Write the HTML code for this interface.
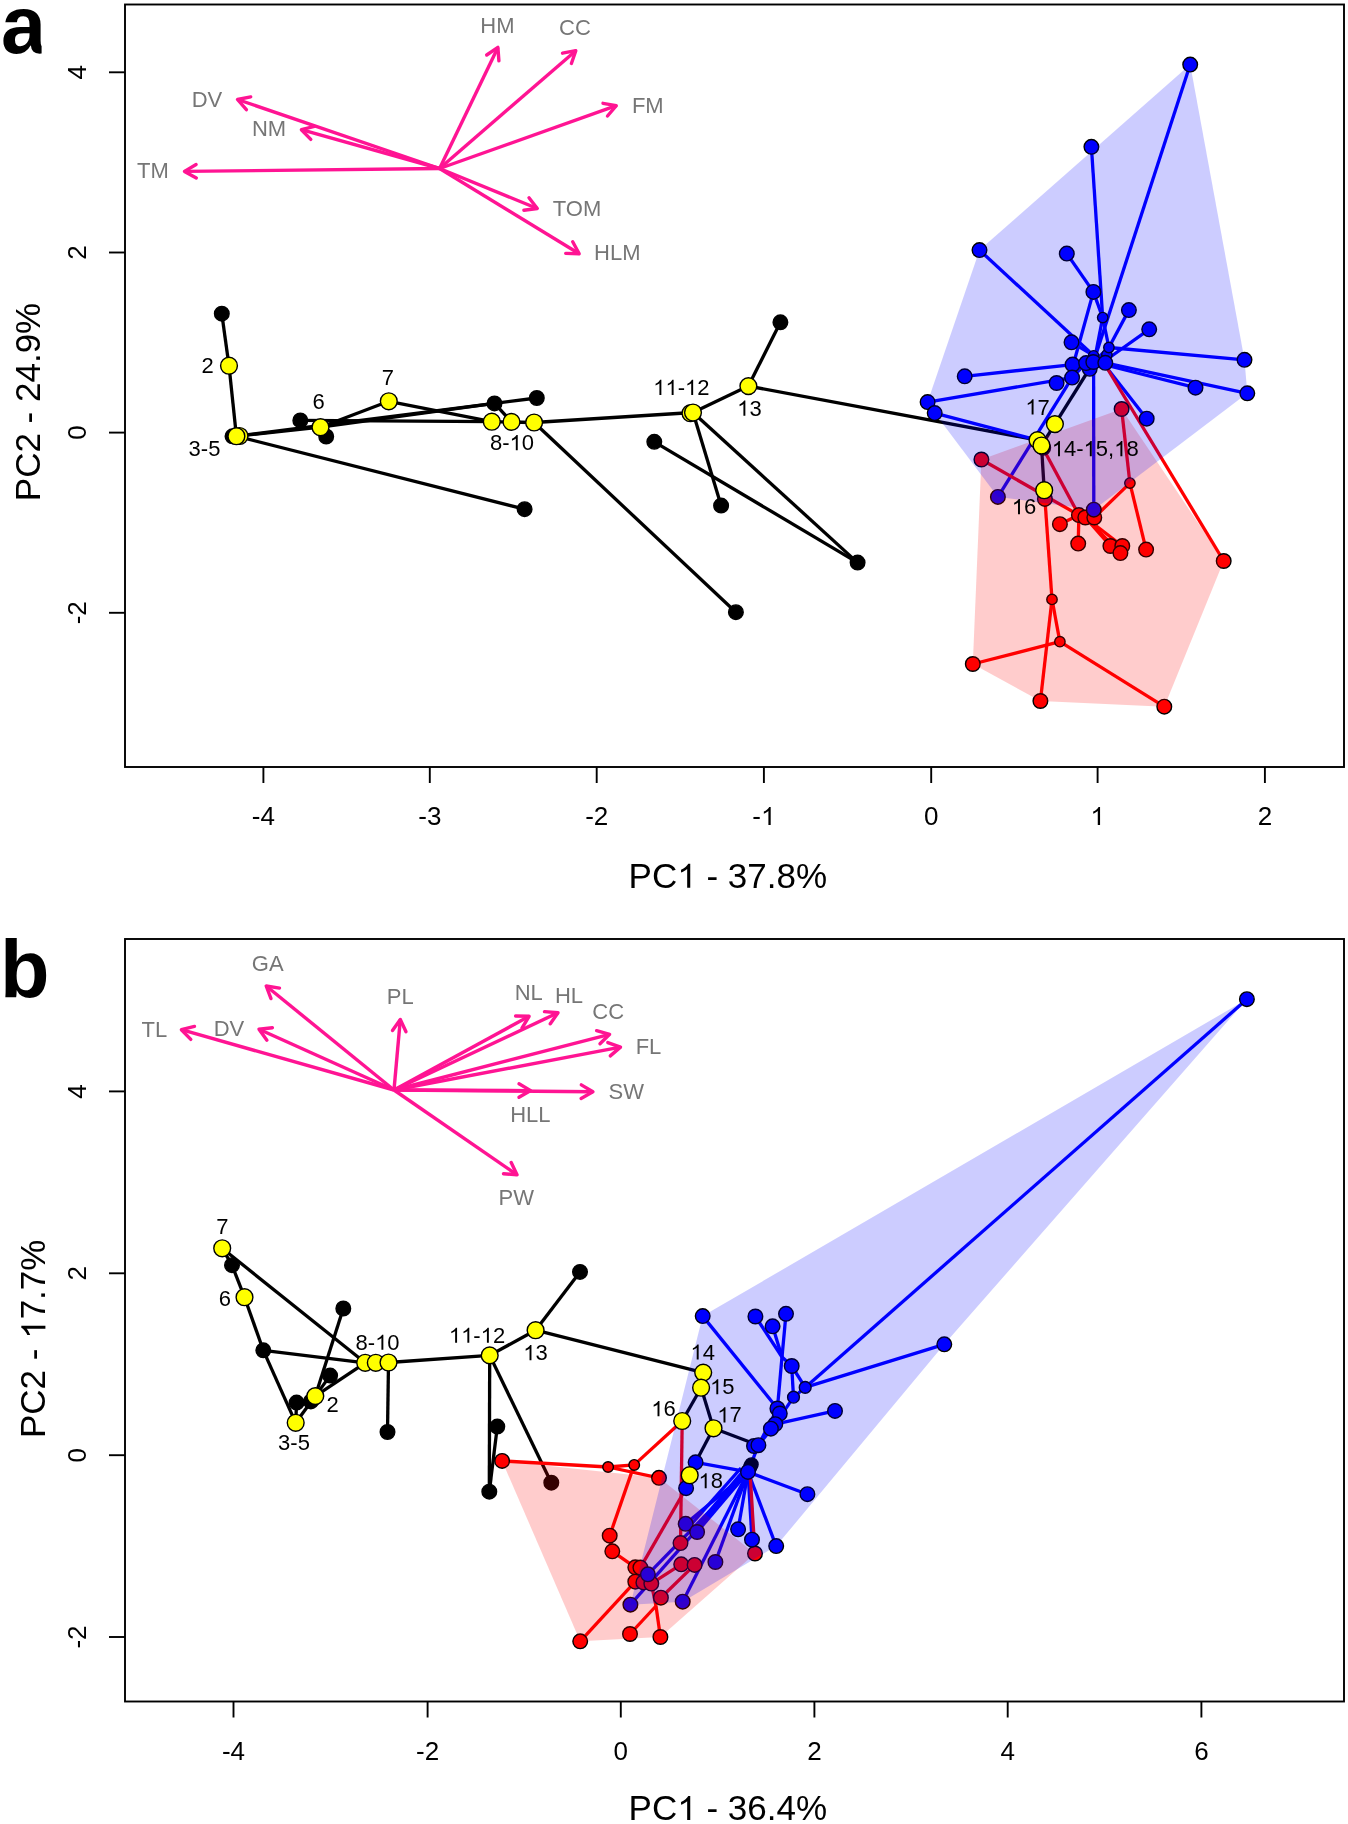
<!DOCTYPE html>
<html><head><meta charset="utf-8"><style>
html,body{margin:0;padding:0;background:#fff;}
svg{display:block;will-change:transform;}
text{font-family:"Liberation Sans", sans-serif;}
</style></head><body>
<svg width="1348" height="1824" viewBox="0 0 1348 1824">
<rect width="1348" height="1824" fill="#fff"/>
<rect x="125" y="4.5" width="1219" height="762.5" fill="none" stroke="#000" stroke-width="1.9"/>
<line x1="263.4" y1="767.0" x2="263.4" y2="783.0" stroke="#000" stroke-width="1.9"/>
<text x="263.4" y="825.0" font-size="26" fill="#000" text-anchor="middle" >-4</text>
<line x1="429.8" y1="767.0" x2="429.8" y2="783.0" stroke="#000" stroke-width="1.9"/>
<text x="429.8" y="825.0" font-size="26" fill="#000" text-anchor="middle" >-3</text>
<line x1="596.7" y1="767.0" x2="596.7" y2="783.0" stroke="#000" stroke-width="1.9"/>
<text x="596.7" y="825.0" font-size="26" fill="#000" text-anchor="middle" >-2</text>
<line x1="763.9" y1="767.0" x2="763.9" y2="783.0" stroke="#000" stroke-width="1.9"/>
<text x="763.9" y="825.0" font-size="26" fill="#000" text-anchor="middle" style="font-kerning:none" >- </text><path d="M763 0L583 0L583 1098Q518 1038 412 980Q307 921 224 890L224 1057Q374 1125 487 1221Q600 1318 647 1409L763 1409Z" fill="#000" transform="translate(761.00,825.00) scale(0.01270,-0.01270)"/>
<line x1="931.2" y1="767.0" x2="931.2" y2="783.0" stroke="#000" stroke-width="1.9"/>
<text x="931.2" y="825.0" font-size="26" fill="#000" text-anchor="middle" >0</text>
<line x1="1097.6" y1="767.0" x2="1097.6" y2="783.0" stroke="#000" stroke-width="1.9"/>
<text x="1097.6" y="825.0" font-size="26" fill="#000" text-anchor="middle" style="font-kerning:none" > </text><path d="M763 0L583 0L583 1098Q518 1038 412 980Q307 921 224 890L224 1057Q374 1125 487 1221Q600 1318 647 1409L763 1409Z" fill="#000" transform="translate(1090.37,825.00) scale(0.01270,-0.01270)"/>
<line x1="1264.9" y1="767.0" x2="1264.9" y2="783.0" stroke="#000" stroke-width="1.9"/>
<text x="1264.9" y="825.0" font-size="26" fill="#000" text-anchor="middle" >2</text>
<line x1="109.0" y1="72.3" x2="125.0" y2="72.3" stroke="#000" stroke-width="1.9"/>
<text x="0.0" y="0.0" font-size="26" fill="#000" text-anchor="middle" transform="translate(86,72.3) rotate(-90)">4</text>
<line x1="109.0" y1="252.5" x2="125.0" y2="252.5" stroke="#000" stroke-width="1.9"/>
<text x="0.0" y="0.0" font-size="26" fill="#000" text-anchor="middle" transform="translate(86,252.5) rotate(-90)">2</text>
<line x1="109.0" y1="432.6" x2="125.0" y2="432.6" stroke="#000" stroke-width="1.9"/>
<text x="0.0" y="0.0" font-size="26" fill="#000" text-anchor="middle" transform="translate(86,432.6) rotate(-90)">0</text>
<line x1="109.0" y1="612.8" x2="125.0" y2="612.8" stroke="#000" stroke-width="1.9"/>
<text x="0.0" y="0.0" font-size="26" fill="#000" text-anchor="middle" transform="translate(86,612.8) rotate(-90)">-2</text>
<text x="727.8" y="887.8" font-size="35" fill="#000" text-anchor="middle" style="font-kerning:none" >PC  - 37.8%</text><path d="M763 0L583 0L583 1098Q518 1038 412 980Q307 921 224 890L224 1057Q374 1125 487 1221Q600 1318 647 1409L763 1409Z" fill="#000" transform="translate(677.21,887.80) scale(0.01709,-0.01709)"/>
<text x="0.0" y="0.0" font-size="35" fill="#000" text-anchor="middle" transform="translate(40.1,402) rotate(-90)">PC2 - 24.9%</text>
<text x="1.0" y="52.5" font-size="81" fill="#000" text-anchor="start" font-weight="bold">a</text>
<rect x="41.6" y="43" width="10" height="14" fill="#fff"/>
<line x1="439.6" y1="168.5" x2="497.9" y2="47.4" stroke="#FF1493" stroke-width="3.4"/>
<polyline points="486.7,55.0 497.9,47.4 498.9,60.9" fill="none" stroke="#FF1493" stroke-width="3.4" stroke-linecap="round" stroke-linejoin="round"/>
<line x1="439.6" y1="168.5" x2="575.8" y2="50.7" stroke="#FF1493" stroke-width="3.4"/>
<polyline points="562.5,53.2 575.8,50.7 571.4,63.5" fill="none" stroke="#FF1493" stroke-width="3.4" stroke-linecap="round" stroke-linejoin="round"/>
<line x1="439.6" y1="168.5" x2="616.3" y2="105.7" stroke="#FF1493" stroke-width="3.4"/>
<polyline points="603.0,103.3 616.3,105.7 607.5,116.0" fill="none" stroke="#FF1493" stroke-width="3.4" stroke-linecap="round" stroke-linejoin="round"/>
<line x1="439.6" y1="168.5" x2="537.3" y2="208.5" stroke="#FF1493" stroke-width="3.4"/>
<polyline points="529.0,197.8 537.3,208.5 523.9,210.3" fill="none" stroke="#FF1493" stroke-width="3.4" stroke-linecap="round" stroke-linejoin="round"/>
<line x1="439.6" y1="168.5" x2="579.2" y2="253.7" stroke="#FF1493" stroke-width="3.4"/>
<polyline points="572.7,241.8 579.2,253.7 565.7,253.4" fill="none" stroke="#FF1493" stroke-width="3.4" stroke-linecap="round" stroke-linejoin="round"/>
<line x1="439.6" y1="168.5" x2="237.5" y2="99.5" stroke="#FF1493" stroke-width="3.4"/>
<polyline points="246.4,109.7 237.5,99.5 250.7,96.9" fill="none" stroke="#FF1493" stroke-width="3.4" stroke-linecap="round" stroke-linejoin="round"/>
<line x1="439.6" y1="168.5" x2="301.4" y2="129.7" stroke="#FF1493" stroke-width="3.4"/>
<polyline points="310.8,139.4 301.4,129.7 314.5,126.4" fill="none" stroke="#FF1493" stroke-width="3.4" stroke-linecap="round" stroke-linejoin="round"/>
<line x1="439.6" y1="168.5" x2="184.5" y2="171.4" stroke="#FF1493" stroke-width="3.4"/>
<polyline points="196.3,178.0 184.5,171.4 196.1,164.5" fill="none" stroke="#FF1493" stroke-width="3.4" stroke-linecap="round" stroke-linejoin="round"/>
<text x="207.0" y="106.8" font-size="22" fill="#767676" text-anchor="middle" >DV</text>
<text x="269.0" y="136.2" font-size="22" fill="#767676" text-anchor="middle" >NM</text>
<text x="153.0" y="178.0" font-size="22" fill="#767676" text-anchor="middle" >TM</text>
<text x="497.4" y="32.9" font-size="22" fill="#767676" text-anchor="middle" >HM</text>
<text x="575.0" y="35.2" font-size="22" fill="#767676" text-anchor="middle" >CC</text>
<text x="647.8" y="113.0" font-size="22" fill="#767676" text-anchor="middle" >FM</text>
<text x="577.0" y="215.5" font-size="22" fill="#767676" text-anchor="middle" >TOM</text>
<text x="617.3" y="260.4" font-size="22" fill="#767676" text-anchor="middle" >HLM</text>
<line x1="221.8" y1="313.7" x2="229.0" y2="365.7" stroke="#000" stroke-width="3.3"/>
<line x1="229.0" y1="365.7" x2="236.4" y2="436.2" stroke="#000" stroke-width="3.3"/>
<line x1="236.4" y1="436.2" x2="320.5" y2="427.2" stroke="#000" stroke-width="3.3"/>
<line x1="236.4" y1="436.2" x2="494.5" y2="403.4" stroke="#000" stroke-width="3.3"/>
<line x1="320.5" y1="427.2" x2="494.5" y2="403.4" stroke="#000" stroke-width="3.3"/>
<line x1="236.4" y1="436.2" x2="524.6" y2="509.2" stroke="#000" stroke-width="3.3"/>
<line x1="320.5" y1="427.2" x2="326.2" y2="436.5" stroke="#000" stroke-width="3.3"/>
<line x1="320.5" y1="427.2" x2="388.8" y2="401.3" stroke="#000" stroke-width="3.3"/>
<line x1="388.8" y1="401.3" x2="491.8" y2="421.7" stroke="#000" stroke-width="3.3"/>
<line x1="300.3" y1="420.4" x2="491.8" y2="421.7" stroke="#000" stroke-width="3.3"/>
<line x1="494.5" y1="403.4" x2="536.8" y2="398.0" stroke="#000" stroke-width="3.3"/>
<line x1="494.5" y1="403.4" x2="511.5" y2="421.9" stroke="#000" stroke-width="3.3"/>
<line x1="491.8" y1="421.7" x2="534.1" y2="422.5" stroke="#000" stroke-width="3.3"/>
<line x1="534.1" y1="422.5" x2="693.0" y2="412.5" stroke="#000" stroke-width="3.3"/>
<line x1="534.1" y1="422.5" x2="735.9" y2="612.2" stroke="#000" stroke-width="3.3"/>
<line x1="693.0" y1="412.5" x2="748.4" y2="386.1" stroke="#000" stroke-width="3.3"/>
<line x1="748.4" y1="386.1" x2="780.4" y2="322.3" stroke="#000" stroke-width="3.3"/>
<line x1="748.4" y1="386.1" x2="1037.5" y2="440.1" stroke="#000" stroke-width="3.3"/>
<line x1="693.0" y1="412.5" x2="721.1" y2="505.6" stroke="#000" stroke-width="3.3"/>
<line x1="693.0" y1="412.5" x2="857.6" y2="562.6" stroke="#000" stroke-width="3.3"/>
<line x1="654.3" y1="441.8" x2="857.6" y2="562.6" stroke="#000" stroke-width="3.3"/>
<line x1="1041.5" y1="445.5" x2="1044.2" y2="490.2" stroke="#000" stroke-width="3.3"/>
<line x1="1090.0" y1="368.0" x2="1054.9" y2="424.1" stroke="#000" stroke-width="3.3"/>
<line x1="1054.9" y1="424.1" x2="1041.5" y2="445.5" stroke="#000" stroke-width="3.3"/>
<line x1="1190.2" y1="64.6" x2="1093.5" y2="362.0" stroke="#0000FF" stroke-width="3.3"/>
<line x1="1091.4" y1="146.8" x2="1102.7" y2="317.6" stroke="#0000FF" stroke-width="3.3"/>
<line x1="1102.7" y1="317.6" x2="1108.9" y2="347.5" stroke="#0000FF" stroke-width="3.3"/>
<line x1="1102.7" y1="317.6" x2="1096.0" y2="352.0" stroke="#0000FF" stroke-width="3.3"/>
<line x1="1066.8" y1="253.6" x2="1093.4" y2="291.9" stroke="#0000FF" stroke-width="3.3"/>
<line x1="1093.4" y1="291.9" x2="1102.7" y2="317.6" stroke="#0000FF" stroke-width="3.3"/>
<line x1="1093.4" y1="291.9" x2="1074.0" y2="362.0" stroke="#0000FF" stroke-width="3.3"/>
<line x1="1128.9" y1="310.1" x2="1108.9" y2="347.5" stroke="#0000FF" stroke-width="3.3"/>
<line x1="1149.2" y1="329.3" x2="1106.0" y2="360.0" stroke="#0000FF" stroke-width="3.3"/>
<line x1="1071.5" y1="342.3" x2="1093.0" y2="355.0" stroke="#0000FF" stroke-width="3.3"/>
<line x1="979.5" y1="250.1" x2="1093.0" y2="355.0" stroke="#0000FF" stroke-width="3.3"/>
<line x1="1108.9" y1="347.5" x2="1244.5" y2="359.8" stroke="#0000FF" stroke-width="3.3"/>
<line x1="1105.3" y1="362.8" x2="1247.3" y2="393.3" stroke="#0000FF" stroke-width="3.3"/>
<line x1="1093.5" y1="362.0" x2="1195.5" y2="387.7" stroke="#0000FF" stroke-width="3.3"/>
<line x1="1072.6" y1="364.6" x2="964.7" y2="376.3" stroke="#0000FF" stroke-width="3.3"/>
<line x1="1072.1" y1="377.6" x2="927.6" y2="402.1" stroke="#0000FF" stroke-width="3.3"/>
<line x1="1086.0" y1="363.0" x2="1072.1" y2="377.6" stroke="#0000FF" stroke-width="3.3"/>
<line x1="934.7" y1="413.1" x2="1037.5" y2="440.1" stroke="#0000FF" stroke-width="3.3"/>
<line x1="1072.1" y1="377.6" x2="997.9" y2="496.9" stroke="#0000FF" stroke-width="3.3"/>
<line x1="1093.6" y1="362.0" x2="1093.8" y2="509.7" stroke="#0000FF" stroke-width="3.3"/>
<line x1="1107.0" y1="368.0" x2="1146.7" y2="418.7" stroke="#0000FF" stroke-width="3.3"/>
<line x1="1093.5" y1="362.0" x2="1072.6" y2="364.6" stroke="#0000FF" stroke-width="3.3"/>
<line x1="1093.5" y1="362.0" x2="1105.3" y2="362.8" stroke="#0000FF" stroke-width="3.3"/>
<line x1="1093.5" y1="362.0" x2="1108.9" y2="347.5" stroke="#0000FF" stroke-width="3.3"/>
<line x1="1107.0" y1="368.0" x2="1223.7" y2="561.0" stroke="#FF0000" stroke-width="3.3"/>
<line x1="1121.6" y1="409.0" x2="1129.9" y2="483.1" stroke="#FF0000" stroke-width="3.3"/>
<line x1="1129.9" y1="483.1" x2="1146.1" y2="549.6" stroke="#FF0000" stroke-width="3.3"/>
<line x1="1129.9" y1="483.1" x2="1094.3" y2="517.5" stroke="#FF0000" stroke-width="3.3"/>
<line x1="981.4" y1="459.5" x2="1078.9" y2="515.1" stroke="#FF0000" stroke-width="3.3"/>
<line x1="1041.5" y1="445.5" x2="1078.9" y2="515.1" stroke="#FF0000" stroke-width="3.3"/>
<line x1="1059.9" y1="524.2" x2="1078.9" y2="515.1" stroke="#FF0000" stroke-width="3.3"/>
<line x1="1078.9" y1="515.1" x2="1078.2" y2="543.6" stroke="#FF0000" stroke-width="3.3"/>
<line x1="1085.3" y1="517.5" x2="1110.4" y2="546.0" stroke="#FF0000" stroke-width="3.3"/>
<line x1="1085.3" y1="517.5" x2="1122.3" y2="546.0" stroke="#FF0000" stroke-width="3.3"/>
<line x1="1085.3" y1="517.5" x2="1120.4" y2="553.1" stroke="#FF0000" stroke-width="3.3"/>
<line x1="1078.9" y1="515.1" x2="1094.3" y2="517.5" stroke="#FF0000" stroke-width="3.3"/>
<line x1="1044.9" y1="498.9" x2="1052.0" y2="599.4" stroke="#FF0000" stroke-width="3.3"/>
<line x1="1052.0" y1="599.4" x2="1040.4" y2="701.0" stroke="#FF0000" stroke-width="3.3"/>
<line x1="1052.0" y1="599.4" x2="1059.9" y2="641.7" stroke="#FF0000" stroke-width="3.3"/>
<line x1="1059.9" y1="641.7" x2="972.8" y2="664.0" stroke="#FF0000" stroke-width="3.3"/>
<line x1="1059.9" y1="641.7" x2="1164.3" y2="706.7" stroke="#FF0000" stroke-width="3.3"/>
<circle cx="221.8" cy="313.7" r="7.30" fill="#000" stroke="#000" stroke-width="1.4"/>
<circle cx="300.3" cy="420.4" r="7.30" fill="#000" stroke="#000" stroke-width="1.4"/>
<circle cx="326.2" cy="436.5" r="7.30" fill="#000" stroke="#000" stroke-width="1.4"/>
<circle cx="494.5" cy="403.4" r="7.30" fill="#000" stroke="#000" stroke-width="1.4"/>
<circle cx="536.8" cy="398.0" r="7.30" fill="#000" stroke="#000" stroke-width="1.4"/>
<circle cx="524.6" cy="509.2" r="7.30" fill="#000" stroke="#000" stroke-width="1.4"/>
<circle cx="654.3" cy="441.8" r="7.30" fill="#000" stroke="#000" stroke-width="1.4"/>
<circle cx="721.1" cy="505.6" r="7.30" fill="#000" stroke="#000" stroke-width="1.4"/>
<circle cx="857.6" cy="562.6" r="7.30" fill="#000" stroke="#000" stroke-width="1.4"/>
<circle cx="735.9" cy="612.2" r="7.30" fill="#000" stroke="#000" stroke-width="1.4"/>
<circle cx="780.4" cy="322.3" r="7.30" fill="#000" stroke="#000" stroke-width="1.4"/>
<circle cx="232.5" cy="436.3" r="7.30" fill="#000" stroke="#000" stroke-width="1.4"/>
<circle cx="1043.2" cy="447.8" r="7.30" fill="#000" stroke="#000" stroke-width="1.4"/>
<circle cx="1121.6" cy="409.0" r="7.30" fill="#FF0000" stroke="#000" stroke-width="1.4"/>
<circle cx="981.4" cy="459.5" r="7.30" fill="#FF0000" stroke="#000" stroke-width="1.4"/>
<circle cx="1044.9" cy="498.9" r="7.30" fill="#FF0000" stroke="#000" stroke-width="1.4"/>
<circle cx="1078.9" cy="515.1" r="7.30" fill="#FF0000" stroke="#000" stroke-width="1.4"/>
<circle cx="1085.3" cy="517.5" r="7.30" fill="#FF0000" stroke="#000" stroke-width="1.4"/>
<circle cx="1094.3" cy="517.5" r="7.30" fill="#FF0000" stroke="#000" stroke-width="1.4"/>
<circle cx="1059.9" cy="524.2" r="7.30" fill="#FF0000" stroke="#000" stroke-width="1.4"/>
<circle cx="1078.2" cy="543.6" r="7.30" fill="#FF0000" stroke="#000" stroke-width="1.4"/>
<circle cx="1110.4" cy="546.0" r="7.30" fill="#FF0000" stroke="#000" stroke-width="1.4"/>
<circle cx="1122.3" cy="546.0" r="7.30" fill="#FF0000" stroke="#000" stroke-width="1.4"/>
<circle cx="1120.4" cy="553.1" r="7.30" fill="#FF0000" stroke="#000" stroke-width="1.4"/>
<circle cx="1146.1" cy="549.6" r="7.30" fill="#FF0000" stroke="#000" stroke-width="1.4"/>
<circle cx="1223.7" cy="561.0" r="7.30" fill="#FF0000" stroke="#000" stroke-width="1.4"/>
<circle cx="972.8" cy="664.0" r="7.30" fill="#FF0000" stroke="#000" stroke-width="1.4"/>
<circle cx="1040.4" cy="701.0" r="7.30" fill="#FF0000" stroke="#000" stroke-width="1.4"/>
<circle cx="1164.3" cy="706.7" r="7.30" fill="#FF0000" stroke="#000" stroke-width="1.4"/>
<circle cx="1129.9" cy="483.1" r="5.20" fill="#FF0000" stroke="#000" stroke-width="1.4"/>
<circle cx="1052.0" cy="599.4" r="5.20" fill="#FF0000" stroke="#000" stroke-width="1.4"/>
<circle cx="1059.9" cy="641.7" r="5.20" fill="#FF0000" stroke="#000" stroke-width="1.4"/>
<circle cx="1093.6" cy="355.8" r="5.20" fill="#0000FF" stroke="#000" stroke-width="1.4"/>
<circle cx="1106.9" cy="354.8" r="5.20" fill="#0000FF" stroke="#000" stroke-width="1.4"/>
<circle cx="1190.2" cy="64.6" r="7.30" fill="#0000FF" stroke="#000" stroke-width="1.4"/>
<circle cx="1091.4" cy="146.8" r="7.30" fill="#0000FF" stroke="#000" stroke-width="1.4"/>
<circle cx="979.5" cy="250.1" r="7.30" fill="#0000FF" stroke="#000" stroke-width="1.4"/>
<circle cx="1066.8" cy="253.6" r="7.30" fill="#0000FF" stroke="#000" stroke-width="1.4"/>
<circle cx="1093.4" cy="291.9" r="7.30" fill="#0000FF" stroke="#000" stroke-width="1.4"/>
<circle cx="1128.9" cy="310.1" r="7.30" fill="#0000FF" stroke="#000" stroke-width="1.4"/>
<circle cx="1149.2" cy="329.3" r="7.30" fill="#0000FF" stroke="#000" stroke-width="1.4"/>
<circle cx="1071.5" cy="342.3" r="7.30" fill="#0000FF" stroke="#000" stroke-width="1.4"/>
<circle cx="1244.5" cy="359.8" r="7.30" fill="#0000FF" stroke="#000" stroke-width="1.4"/>
<circle cx="964.7" cy="376.3" r="7.30" fill="#0000FF" stroke="#000" stroke-width="1.4"/>
<circle cx="1072.6" cy="364.6" r="7.30" fill="#0000FF" stroke="#000" stroke-width="1.4"/>
<circle cx="1072.1" cy="377.6" r="7.30" fill="#0000FF" stroke="#000" stroke-width="1.4"/>
<circle cx="1056.6" cy="383.0" r="7.30" fill="#0000FF" stroke="#000" stroke-width="1.4"/>
<circle cx="1195.5" cy="387.7" r="7.30" fill="#0000FF" stroke="#000" stroke-width="1.4"/>
<circle cx="1247.3" cy="393.3" r="7.30" fill="#0000FF" stroke="#000" stroke-width="1.4"/>
<circle cx="927.6" cy="402.1" r="7.30" fill="#0000FF" stroke="#000" stroke-width="1.4"/>
<circle cx="934.7" cy="413.1" r="7.30" fill="#0000FF" stroke="#000" stroke-width="1.4"/>
<circle cx="1146.7" cy="418.7" r="7.30" fill="#0000FF" stroke="#000" stroke-width="1.4"/>
<circle cx="997.9" cy="496.9" r="7.30" fill="#0000FF" stroke="#000" stroke-width="1.4"/>
<circle cx="1093.8" cy="509.7" r="7.30" fill="#0000FF" stroke="#000" stroke-width="1.4"/>
<circle cx="1089.7" cy="368.8" r="7.30" fill="#0000FF" stroke="#000" stroke-width="1.4"/>
<circle cx="1086.1" cy="363.1" r="7.30" fill="#0000FF" stroke="#000" stroke-width="1.4"/>
<circle cx="1093.3" cy="362.0" r="7.30" fill="#0000FF" stroke="#000" stroke-width="1.4"/>
<circle cx="1105.3" cy="362.8" r="7.30" fill="#0000FF" stroke="#000" stroke-width="1.4"/>
<circle cx="1102.7" cy="317.6" r="5.20" fill="#0000FF" stroke="#000" stroke-width="1.4"/>
<circle cx="1108.9" cy="347.5" r="5.20" fill="#0000FF" stroke="#000" stroke-width="1.4"/>
<polygon points="981.4,459.5 1121.6,409.0 1223.7,561.0 1164.3,706.7 1040.4,701.0 972.8,664.0" fill="#FF0000" fill-opacity="0.2" stroke="none"/>
<polygon points="1190.2,64.6 1244.5,359.8 1247.3,393.3 1093.8,509.7 997.9,496.9 934.7,413.1 927.6,402.1 979.5,250.1" fill="#0000FF" fill-opacity="0.2" stroke="none"/>
<circle cx="229.0" cy="365.7" r="8.40" fill="#FFFF00" stroke="#000" stroke-width="1.4"/>
<circle cx="239.5" cy="436.0" r="8.40" fill="#FFFF00" stroke="#000" stroke-width="1.4"/>
<circle cx="236.4" cy="436.2" r="8.40" fill="#FFFF00" stroke="#000" stroke-width="1.4"/>
<circle cx="320.5" cy="427.2" r="8.40" fill="#FFFF00" stroke="#000" stroke-width="1.4"/>
<circle cx="388.8" cy="401.3" r="8.40" fill="#FFFF00" stroke="#000" stroke-width="1.4"/>
<circle cx="491.8" cy="421.7" r="8.40" fill="#FFFF00" stroke="#000" stroke-width="1.4"/>
<circle cx="511.5" cy="421.9" r="8.40" fill="#FFFF00" stroke="#000" stroke-width="1.4"/>
<circle cx="534.1" cy="422.5" r="8.40" fill="#FFFF00" stroke="#000" stroke-width="1.4"/>
<circle cx="690.5" cy="413.2" r="8.40" fill="#FFFF00" stroke="#000" stroke-width="1.4"/>
<circle cx="693.0" cy="412.5" r="8.40" fill="#FFFF00" stroke="#000" stroke-width="1.4"/>
<circle cx="748.4" cy="386.1" r="8.40" fill="#FFFF00" stroke="#000" stroke-width="1.4"/>
<circle cx="1037.5" cy="440.1" r="8.40" fill="#FFFF00" stroke="#000" stroke-width="1.4"/>
<circle cx="1041.5" cy="445.5" r="8.40" fill="#FFFF00" stroke="#000" stroke-width="1.4"/>
<circle cx="1044.2" cy="490.2" r="8.40" fill="#FFFF00" stroke="#000" stroke-width="1.4"/>
<circle cx="1054.9" cy="424.1" r="8.40" fill="#FFFF00" stroke="#000" stroke-width="1.4"/>
<text x="207.6" y="372.8" font-size="22" fill="#000" text-anchor="middle" >2</text>
<text x="204.5" y="455.6" font-size="22" fill="#000" text-anchor="middle" >3-5</text>
<text x="318.7" y="409.0" font-size="22" fill="#000" text-anchor="middle" >6</text>
<text x="387.9" y="384.7" font-size="22" fill="#000" text-anchor="middle" >7</text>
<text x="512.0" y="450.2" font-size="22" fill="#000" text-anchor="middle" style="font-kerning:none" >8- 0</text><path d="M763 0L583 0L583 1098Q518 1038 412 980Q307 921 224 890L224 1057Q374 1125 487 1221Q600 1318 647 1409L763 1409Z" fill="#000" transform="translate(509.55,450.20) scale(0.01074,-0.01074)"/>
<text x="681.3" y="395.0" font-size="22" fill="#000" text-anchor="middle" style="font-kerning:none" >  - 2</text><path d="M763 0L583 0L583 1098Q518 1038 412 980Q307 921 224 890L224 1057Q374 1125 487 1221Q600 1318 647 1409L763 1409Z" fill="#000" transform="translate(653.17,395.00) scale(0.01074,-0.01074)"/><path d="M763 0L583 0L583 1098Q518 1038 412 980Q307 921 224 890L224 1057Q374 1125 487 1221Q600 1318 647 1409L763 1409Z" fill="#000" transform="translate(665.40,395.00) scale(0.01074,-0.01074)"/><path d="M763 0L583 0L583 1098Q518 1038 412 980Q307 921 224 890L224 1057Q374 1125 487 1221Q600 1318 647 1409L763 1409Z" fill="#000" transform="translate(684.96,395.00) scale(0.01074,-0.01074)"/>
<text x="749.4" y="415.7" font-size="22" fill="#000" text-anchor="middle" style="font-kerning:none" > 3</text><path d="M763 0L583 0L583 1098Q518 1038 412 980Q307 921 224 890L224 1057Q374 1125 487 1221Q600 1318 647 1409L763 1409Z" fill="#000" transform="translate(737.16,415.70) scale(0.01074,-0.01074)"/>
<text x="1037.6" y="414.5" font-size="22" fill="#000" text-anchor="middle" style="font-kerning:none" > 7</text><path d="M763 0L583 0L583 1098Q518 1038 412 980Q307 921 224 890L224 1057Q374 1125 487 1221Q600 1318 647 1409L763 1409Z" fill="#000" transform="translate(1025.36,414.50) scale(0.01074,-0.01074)"/>
<text x="1095.2" y="456.2" font-size="22" fill="#000" text-anchor="middle" style="font-kerning:none" > 4- 5, 8</text><path d="M763 0L583 0L583 1098Q518 1038 412 980Q307 921 224 890L224 1057Q374 1125 487 1221Q600 1318 647 1409L763 1409Z" fill="#000" transform="translate(1051.77,456.20) scale(0.01074,-0.01074)"/><path d="M763 0L583 0L583 1098Q518 1038 412 980Q307 921 224 890L224 1057Q374 1125 487 1221Q600 1318 647 1409L763 1409Z" fill="#000" transform="translate(1083.57,456.20) scale(0.01074,-0.01074)"/><path d="M763 0L583 0L583 1098Q518 1038 412 980Q307 921 224 890L224 1057Q374 1125 487 1221Q600 1318 647 1409L763 1409Z" fill="#000" transform="translate(1114.15,456.20) scale(0.01074,-0.01074)"/>
<text x="1024.0" y="514.2" font-size="22" fill="#000" text-anchor="middle" style="font-kerning:none" > 6</text><path d="M763 0L583 0L583 1098Q518 1038 412 980Q307 921 224 890L224 1057Q374 1125 487 1221Q600 1318 647 1409L763 1409Z" fill="#000" transform="translate(1011.76,514.20) scale(0.01074,-0.01074)"/>
<rect x="125" y="939" width="1219" height="762.5" fill="none" stroke="#000" stroke-width="1.9"/>
<line x1="233.5" y1="1701.5" x2="233.5" y2="1717.5" stroke="#000" stroke-width="1.9"/>
<text x="233.5" y="1759.5" font-size="26" fill="#000" text-anchor="middle" >-4</text>
<line x1="427.6" y1="1701.5" x2="427.6" y2="1717.5" stroke="#000" stroke-width="1.9"/>
<text x="427.6" y="1759.5" font-size="26" fill="#000" text-anchor="middle" >-2</text>
<line x1="620.8" y1="1701.5" x2="620.8" y2="1717.5" stroke="#000" stroke-width="1.9"/>
<text x="620.8" y="1759.5" font-size="26" fill="#000" text-anchor="middle" >0</text>
<line x1="814.4" y1="1701.5" x2="814.4" y2="1717.5" stroke="#000" stroke-width="1.9"/>
<text x="814.4" y="1759.5" font-size="26" fill="#000" text-anchor="middle" >2</text>
<line x1="1007.7" y1="1701.5" x2="1007.7" y2="1717.5" stroke="#000" stroke-width="1.9"/>
<text x="1007.7" y="1759.5" font-size="26" fill="#000" text-anchor="middle" >4</text>
<line x1="1201.4" y1="1701.5" x2="1201.4" y2="1717.5" stroke="#000" stroke-width="1.9"/>
<text x="1201.4" y="1759.5" font-size="26" fill="#000" text-anchor="middle" >6</text>
<line x1="109.0" y1="1091.4" x2="125.0" y2="1091.4" stroke="#000" stroke-width="1.9"/>
<text x="0.0" y="0.0" font-size="26" fill="#000" text-anchor="middle" transform="translate(86,1091.4) rotate(-90)">4</text>
<line x1="109.0" y1="1273.3" x2="125.0" y2="1273.3" stroke="#000" stroke-width="1.9"/>
<text x="0.0" y="0.0" font-size="26" fill="#000" text-anchor="middle" transform="translate(86,1273.3) rotate(-90)">2</text>
<line x1="109.0" y1="1455.2" x2="125.0" y2="1455.2" stroke="#000" stroke-width="1.9"/>
<text x="0.0" y="0.0" font-size="26" fill="#000" text-anchor="middle" transform="translate(86,1455.2) rotate(-90)">0</text>
<line x1="109.0" y1="1637.0" x2="125.0" y2="1637.0" stroke="#000" stroke-width="1.9"/>
<text x="0.0" y="0.0" font-size="26" fill="#000" text-anchor="middle" transform="translate(86,1637) rotate(-90)">-2</text>
<text x="727.8" y="1820.0" font-size="35" fill="#000" text-anchor="middle" style="font-kerning:none" >PC  - 36.4%</text><path d="M763 0L583 0L583 1098Q518 1038 412 980Q307 921 224 890L224 1057Q374 1125 487 1221Q600 1318 647 1409L763 1409Z" fill="#000" transform="translate(677.21,1820.00) scale(0.01709,-0.01709)"/>
<g transform="translate(45.4,1338.8) rotate(-90)"><text x="0.0" y="0.0" font-size="35" fill="#000" text-anchor="middle" style="font-kerning:none" >PC2 -  7.7%</text><path d="M763 0L583 0L583 1098Q518 1038 412 980Q307 921 224 890L224 1057Q374 1125 487 1221Q600 1318 647 1409L763 1409Z" fill="#000" transform="translate(-0.03,0.00) scale(0.01709,-0.01709)"/></g>
<text x="0.0" y="997.0" font-size="81" fill="#000" text-anchor="start" font-weight="bold">b</text>
<line x1="394.0" y1="1090.0" x2="266.2" y2="986.0" stroke="#FF1493" stroke-width="3.4"/>
<polyline points="271.0,998.6 266.2,986.0 279.5,988.1" fill="none" stroke="#FF1493" stroke-width="3.4" stroke-linecap="round" stroke-linejoin="round"/>
<line x1="394.0" y1="1090.0" x2="400.3" y2="1019.5" stroke="#FF1493" stroke-width="3.4"/>
<polyline points="392.5,1030.5 400.3,1019.5 406.0,1031.7" fill="none" stroke="#FF1493" stroke-width="3.4" stroke-linecap="round" stroke-linejoin="round"/>
<line x1="394.0" y1="1090.0" x2="259.0" y2="1029.2" stroke="#FF1493" stroke-width="3.4"/>
<polyline points="266.9,1040.2 259.0,1029.2 272.4,1027.8" fill="none" stroke="#FF1493" stroke-width="3.4" stroke-linecap="round" stroke-linejoin="round"/>
<line x1="394.0" y1="1090.0" x2="181.4" y2="1029.7" stroke="#FF1493" stroke-width="3.4"/>
<polyline points="190.8,1039.4 181.4,1029.7 194.5,1026.4" fill="none" stroke="#FF1493" stroke-width="3.4" stroke-linecap="round" stroke-linejoin="round"/>
<line x1="394.0" y1="1090.0" x2="529.1" y2="1016.3" stroke="#FF1493" stroke-width="3.4"/>
<polyline points="515.6,1016.0 529.1,1016.3 522.1,1027.8" fill="none" stroke="#FF1493" stroke-width="3.4" stroke-linecap="round" stroke-linejoin="round"/>
<line x1="394.0" y1="1090.0" x2="558.0" y2="1012.7" stroke="#FF1493" stroke-width="3.4"/>
<polyline points="544.5,1011.6 558.0,1012.7 550.3,1023.8" fill="none" stroke="#FF1493" stroke-width="3.4" stroke-linecap="round" stroke-linejoin="round"/>
<line x1="394.0" y1="1090.0" x2="609.6" y2="1034.3" stroke="#FF1493" stroke-width="3.4"/>
<polyline points="596.6,1030.7 609.6,1034.3 600.0,1043.8" fill="none" stroke="#FF1493" stroke-width="3.4" stroke-linecap="round" stroke-linejoin="round"/>
<line x1="394.0" y1="1090.0" x2="620.5" y2="1047.1" stroke="#FF1493" stroke-width="3.4"/>
<polyline points="607.8,1042.6 620.5,1047.1 610.3,1055.9" fill="none" stroke="#FF1493" stroke-width="3.4" stroke-linecap="round" stroke-linejoin="round"/>
<line x1="394.0" y1="1090.0" x2="530.7" y2="1090.6" stroke="#FF1493" stroke-width="3.4"/>
<polyline points="519.0,1083.8 530.7,1090.6 519.0,1097.3" fill="none" stroke="#FF1493" stroke-width="3.4" stroke-linecap="round" stroke-linejoin="round"/>
<line x1="394.0" y1="1090.0" x2="592.9" y2="1091.8" stroke="#FF1493" stroke-width="3.4"/>
<polyline points="581.3,1084.9 592.9,1091.8 581.1,1098.4" fill="none" stroke="#FF1493" stroke-width="3.4" stroke-linecap="round" stroke-linejoin="round"/>
<line x1="394.0" y1="1090.0" x2="517.0" y2="1174.8" stroke="#FF1493" stroke-width="3.4"/>
<polyline points="511.2,1162.6 517.0,1174.8 503.5,1173.7" fill="none" stroke="#FF1493" stroke-width="3.4" stroke-linecap="round" stroke-linejoin="round"/>
<text x="267.7" y="970.6" font-size="22" fill="#767676" text-anchor="middle" >GA</text>
<text x="400.3" y="1004.3" font-size="22" fill="#767676" text-anchor="middle" >PL</text>
<text x="154.4" y="1037.0" font-size="22" fill="#767676" text-anchor="middle" >TL</text>
<text x="229.0" y="1036.3" font-size="22" fill="#767676" text-anchor="middle" >DV</text>
<text x="528.8" y="1000.4" font-size="22" fill="#767676" text-anchor="middle" >NL</text>
<text x="569.0" y="1002.7" font-size="22" fill="#767676" text-anchor="middle" >HL</text>
<text x="608.2" y="1018.5" font-size="22" fill="#767676" text-anchor="middle" >CC</text>
<text x="648.5" y="1054.2" font-size="22" fill="#767676" text-anchor="middle" >FL</text>
<text x="626.3" y="1098.9" font-size="22" fill="#767676" text-anchor="middle" >SW</text>
<text x="530.4" y="1122.1" font-size="22" fill="#767676" text-anchor="middle" >HLL</text>
<text x="516.3" y="1205.2" font-size="22" fill="#767676" text-anchor="middle" >PW</text>
<line x1="222.2" y1="1248.3" x2="232.0" y2="1265.2" stroke="#000" stroke-width="3.3"/>
<line x1="232.0" y1="1265.2" x2="244.5" y2="1297.2" stroke="#000" stroke-width="3.3"/>
<line x1="222.2" y1="1248.3" x2="365.2" y2="1362.8" stroke="#000" stroke-width="3.3"/>
<line x1="244.5" y1="1297.2" x2="263.3" y2="1350.3" stroke="#000" stroke-width="3.3"/>
<line x1="263.3" y1="1350.3" x2="365.2" y2="1362.8" stroke="#000" stroke-width="3.3"/>
<line x1="263.3" y1="1350.3" x2="295.7" y2="1422.8" stroke="#000" stroke-width="3.3"/>
<line x1="295.7" y1="1422.8" x2="296.6" y2="1402.6" stroke="#000" stroke-width="3.3"/>
<line x1="295.7" y1="1422.8" x2="315.3" y2="1396.1" stroke="#000" stroke-width="3.3"/>
<line x1="315.3" y1="1396.1" x2="343.3" y2="1308.5" stroke="#000" stroke-width="3.3"/>
<line x1="315.3" y1="1396.1" x2="330.1" y2="1375.6" stroke="#000" stroke-width="3.3"/>
<line x1="315.3" y1="1396.1" x2="365.2" y2="1362.8" stroke="#000" stroke-width="3.3"/>
<line x1="365.2" y1="1362.8" x2="388.5" y2="1362.5" stroke="#000" stroke-width="3.3"/>
<line x1="388.5" y1="1362.5" x2="387.5" y2="1432.0" stroke="#000" stroke-width="3.3"/>
<line x1="388.5" y1="1362.5" x2="489.7" y2="1355.4" stroke="#000" stroke-width="3.3"/>
<line x1="489.7" y1="1355.4" x2="535.6" y2="1330.2" stroke="#000" stroke-width="3.3"/>
<line x1="535.6" y1="1330.2" x2="580.0" y2="1271.9" stroke="#000" stroke-width="3.3"/>
<line x1="535.6" y1="1330.2" x2="703.2" y2="1372.6" stroke="#000" stroke-width="3.3"/>
<line x1="489.7" y1="1355.4" x2="489.3" y2="1491.7" stroke="#000" stroke-width="3.3"/>
<line x1="497.3" y1="1426.6" x2="489.3" y2="1491.7" stroke="#000" stroke-width="3.3"/>
<line x1="489.7" y1="1355.4" x2="551.3" y2="1482.7" stroke="#000" stroke-width="3.3"/>
<line x1="703.2" y1="1372.6" x2="701.1" y2="1387.7" stroke="#000" stroke-width="3.3"/>
<line x1="701.1" y1="1387.7" x2="682.2" y2="1421.0" stroke="#000" stroke-width="3.3"/>
<line x1="701.1" y1="1387.7" x2="713.5" y2="1428.3" stroke="#000" stroke-width="3.3"/>
<line x1="713.5" y1="1428.3" x2="758.4" y2="1445.2" stroke="#000" stroke-width="3.3"/>
<line x1="713.5" y1="1428.3" x2="695.6" y2="1462.3" stroke="#000" stroke-width="3.3"/>
<line x1="1246.9" y1="999.2" x2="805.2" y2="1387.4" stroke="#0000FF" stroke-width="3.3"/>
<line x1="944.3" y1="1344.3" x2="805.2" y2="1387.4" stroke="#0000FF" stroke-width="3.3"/>
<line x1="805.2" y1="1387.4" x2="791.7" y2="1366.0" stroke="#0000FF" stroke-width="3.3"/>
<line x1="805.2" y1="1387.4" x2="793.5" y2="1397.2" stroke="#0000FF" stroke-width="3.3"/>
<line x1="755.4" y1="1316.5" x2="782.0" y2="1357.0" stroke="#0000FF" stroke-width="3.3"/>
<line x1="772.6" y1="1326.3" x2="782.0" y2="1357.0" stroke="#0000FF" stroke-width="3.3"/>
<line x1="786.0" y1="1313.8" x2="782.0" y2="1357.0" stroke="#0000FF" stroke-width="3.3"/>
<line x1="782.0" y1="1357.0" x2="777.4" y2="1408.5" stroke="#0000FF" stroke-width="3.3"/>
<line x1="782.0" y1="1357.0" x2="791.7" y2="1366.0" stroke="#0000FF" stroke-width="3.3"/>
<line x1="791.7" y1="1366.0" x2="793.5" y2="1397.2" stroke="#0000FF" stroke-width="3.3"/>
<line x1="793.5" y1="1397.2" x2="775.3" y2="1424.2" stroke="#0000FF" stroke-width="3.3"/>
<line x1="702.7" y1="1316.1" x2="777.4" y2="1408.5" stroke="#0000FF" stroke-width="3.3"/>
<line x1="835.0" y1="1410.9" x2="775.3" y2="1424.2" stroke="#0000FF" stroke-width="3.3"/>
<line x1="777.4" y1="1408.5" x2="758.4" y2="1445.2" stroke="#0000FF" stroke-width="3.3"/>
<line x1="775.3" y1="1424.2" x2="758.4" y2="1445.2" stroke="#0000FF" stroke-width="3.3"/>
<line x1="758.4" y1="1445.2" x2="748.0" y2="1471.9" stroke="#0000FF" stroke-width="3.3"/>
<line x1="695.6" y1="1462.3" x2="748.0" y2="1471.9" stroke="#0000FF" stroke-width="3.3"/>
<line x1="748.0" y1="1471.9" x2="807.4" y2="1494.2" stroke="#0000FF" stroke-width="3.3"/>
<line x1="748.0" y1="1471.9" x2="738.1" y2="1529.3" stroke="#0000FF" stroke-width="3.3"/>
<line x1="748.0" y1="1471.9" x2="752.0" y2="1539.7" stroke="#0000FF" stroke-width="3.3"/>
<line x1="748.0" y1="1471.9" x2="776.2" y2="1546.1" stroke="#0000FF" stroke-width="3.3"/>
<line x1="748.0" y1="1471.9" x2="715.4" y2="1562.0" stroke="#0000FF" stroke-width="3.3"/>
<line x1="748.0" y1="1471.9" x2="685.7" y2="1523.8" stroke="#0000FF" stroke-width="3.3"/>
<line x1="748.0" y1="1471.9" x2="697.1" y2="1532.0" stroke="#0000FF" stroke-width="3.3"/>
<line x1="748.0" y1="1471.9" x2="647.9" y2="1574.3" stroke="#0000FF" stroke-width="3.3"/>
<line x1="748.0" y1="1471.9" x2="630.4" y2="1604.7" stroke="#0000FF" stroke-width="3.3"/>
<line x1="748.0" y1="1471.9" x2="682.7" y2="1601.7" stroke="#0000FF" stroke-width="3.3"/>
<line x1="741.0" y1="1468.0" x2="688.0" y2="1528.0" stroke="#0000FF" stroke-width="3.3"/>
<line x1="744.0" y1="1470.0" x2="693.0" y2="1531.0" stroke="#0000FF" stroke-width="3.3"/>
<line x1="502.1" y1="1460.9" x2="608.1" y2="1467.0" stroke="#FF0000" stroke-width="3.3"/>
<line x1="608.1" y1="1467.0" x2="634.2" y2="1464.9" stroke="#FF0000" stroke-width="3.3"/>
<line x1="608.1" y1="1467.0" x2="659.0" y2="1477.8" stroke="#FF0000" stroke-width="3.3"/>
<line x1="682.2" y1="1421.0" x2="634.2" y2="1464.9" stroke="#FF0000" stroke-width="3.3"/>
<line x1="634.2" y1="1464.9" x2="609.7" y2="1535.7" stroke="#FF0000" stroke-width="3.3"/>
<line x1="609.7" y1="1535.7" x2="612.3" y2="1551.3" stroke="#FF0000" stroke-width="3.3"/>
<line x1="612.3" y1="1551.3" x2="635.3" y2="1567.3" stroke="#FF0000" stroke-width="3.3"/>
<line x1="682.2" y1="1421.0" x2="680.5" y2="1543.1" stroke="#FF0000" stroke-width="3.3"/>
<line x1="686.1" y1="1488.2" x2="640.4" y2="1567.6" stroke="#FF0000" stroke-width="3.3"/>
<line x1="580.2" y1="1641.3" x2="635.3" y2="1581.7" stroke="#FF0000" stroke-width="3.3"/>
<line x1="630.0" y1="1634.0" x2="656.0" y2="1606.0" stroke="#FF0000" stroke-width="3.3"/>
<line x1="660.4" y1="1637.0" x2="656.0" y2="1606.0" stroke="#FF0000" stroke-width="3.3"/>
<line x1="656.0" y1="1606.0" x2="651.3" y2="1583.6" stroke="#FF0000" stroke-width="3.3"/>
<line x1="750.2" y1="1475.6" x2="755.0" y2="1553.5" stroke="#FF0000" stroke-width="3.3"/>
<line x1="681.2" y1="1564.3" x2="651.3" y2="1583.6" stroke="#FF0000" stroke-width="3.3"/>
<line x1="694.6" y1="1564.9" x2="660.9" y2="1597.7" stroke="#FF0000" stroke-width="3.3"/>
<line x1="640.4" y1="1567.6" x2="651.3" y2="1583.6" stroke="#FF0000" stroke-width="3.3"/>
<circle cx="232.0" cy="1265.2" r="7.30" fill="#000" stroke="#000" stroke-width="1.4"/>
<circle cx="263.3" cy="1350.3" r="7.30" fill="#000" stroke="#000" stroke-width="1.4"/>
<circle cx="343.3" cy="1308.5" r="7.30" fill="#000" stroke="#000" stroke-width="1.4"/>
<circle cx="330.1" cy="1375.6" r="7.30" fill="#000" stroke="#000" stroke-width="1.4"/>
<circle cx="296.6" cy="1402.6" r="7.30" fill="#000" stroke="#000" stroke-width="1.4"/>
<circle cx="310.9" cy="1401.4" r="7.30" fill="#000" stroke="#000" stroke-width="1.4"/>
<circle cx="387.5" cy="1432.0" r="7.30" fill="#000" stroke="#000" stroke-width="1.4"/>
<circle cx="580.0" cy="1271.9" r="7.30" fill="#000" stroke="#000" stroke-width="1.4"/>
<circle cx="497.3" cy="1426.6" r="7.30" fill="#000" stroke="#000" stroke-width="1.4"/>
<circle cx="489.3" cy="1491.7" r="7.30" fill="#000" stroke="#000" stroke-width="1.4"/>
<circle cx="551.3" cy="1482.7" r="7.30" fill="#000" stroke="#000" stroke-width="1.4"/>
<circle cx="751.5" cy="1464.5" r="6.60" fill="#000" stroke="#000" stroke-width="1.4"/>
<circle cx="750.2" cy="1467.0" r="6.60" fill="#000" stroke="#000" stroke-width="1.4"/>
<circle cx="608.1" cy="1467.0" r="5.30" fill="#FF0000" stroke="#000" stroke-width="1.4"/>
<circle cx="634.2" cy="1464.9" r="5.30" fill="#FF0000" stroke="#000" stroke-width="1.4"/>
<circle cx="502.1" cy="1460.9" r="7.30" fill="#FF0000" stroke="#000" stroke-width="1.4"/>
<circle cx="659.0" cy="1477.8" r="7.30" fill="#FF0000" stroke="#000" stroke-width="1.4"/>
<circle cx="609.7" cy="1535.7" r="7.30" fill="#FF0000" stroke="#000" stroke-width="1.4"/>
<circle cx="612.3" cy="1551.3" r="7.30" fill="#FF0000" stroke="#000" stroke-width="1.4"/>
<circle cx="635.3" cy="1567.3" r="7.30" fill="#FF0000" stroke="#000" stroke-width="1.4"/>
<circle cx="640.4" cy="1567.6" r="7.30" fill="#FF0000" stroke="#000" stroke-width="1.4"/>
<circle cx="635.3" cy="1581.7" r="7.30" fill="#FF0000" stroke="#000" stroke-width="1.4"/>
<circle cx="643.4" cy="1582.4" r="7.30" fill="#FF0000" stroke="#000" stroke-width="1.4"/>
<circle cx="651.3" cy="1583.6" r="7.30" fill="#FF0000" stroke="#000" stroke-width="1.4"/>
<circle cx="681.2" cy="1564.3" r="7.30" fill="#FF0000" stroke="#000" stroke-width="1.4"/>
<circle cx="694.6" cy="1564.9" r="7.30" fill="#FF0000" stroke="#000" stroke-width="1.4"/>
<circle cx="680.5" cy="1543.1" r="7.30" fill="#FF0000" stroke="#000" stroke-width="1.4"/>
<circle cx="755.0" cy="1553.5" r="7.30" fill="#FF0000" stroke="#000" stroke-width="1.4"/>
<circle cx="660.9" cy="1597.7" r="7.30" fill="#FF0000" stroke="#000" stroke-width="1.4"/>
<circle cx="580.2" cy="1641.3" r="7.30" fill="#FF0000" stroke="#000" stroke-width="1.4"/>
<circle cx="630.0" cy="1634.0" r="7.30" fill="#FF0000" stroke="#000" stroke-width="1.4"/>
<circle cx="660.4" cy="1637.0" r="7.30" fill="#FF0000" stroke="#000" stroke-width="1.4"/>
<circle cx="1246.9" cy="999.2" r="7.30" fill="#0000FF" stroke="#000" stroke-width="1.4"/>
<circle cx="944.3" cy="1344.3" r="7.30" fill="#0000FF" stroke="#000" stroke-width="1.4"/>
<circle cx="702.7" cy="1316.1" r="7.30" fill="#0000FF" stroke="#000" stroke-width="1.4"/>
<circle cx="755.4" cy="1316.5" r="7.30" fill="#0000FF" stroke="#000" stroke-width="1.4"/>
<circle cx="786.0" cy="1313.8" r="7.30" fill="#0000FF" stroke="#000" stroke-width="1.4"/>
<circle cx="772.6" cy="1326.3" r="7.30" fill="#0000FF" stroke="#000" stroke-width="1.4"/>
<circle cx="791.7" cy="1366.0" r="7.30" fill="#0000FF" stroke="#000" stroke-width="1.4"/>
<circle cx="835.0" cy="1410.9" r="7.30" fill="#0000FF" stroke="#000" stroke-width="1.4"/>
<circle cx="807.4" cy="1494.2" r="7.30" fill="#0000FF" stroke="#000" stroke-width="1.4"/>
<circle cx="695.6" cy="1462.3" r="7.30" fill="#0000FF" stroke="#000" stroke-width="1.4"/>
<circle cx="686.1" cy="1488.2" r="7.30" fill="#0000FF" stroke="#000" stroke-width="1.4"/>
<circle cx="738.1" cy="1529.3" r="7.30" fill="#0000FF" stroke="#000" stroke-width="1.4"/>
<circle cx="752.0" cy="1539.7" r="7.30" fill="#0000FF" stroke="#000" stroke-width="1.4"/>
<circle cx="776.2" cy="1546.1" r="7.30" fill="#0000FF" stroke="#000" stroke-width="1.4"/>
<circle cx="685.7" cy="1523.8" r="7.30" fill="#0000FF" stroke="#000" stroke-width="1.4"/>
<circle cx="697.1" cy="1532.0" r="7.30" fill="#0000FF" stroke="#000" stroke-width="1.4"/>
<circle cx="715.4" cy="1562.0" r="7.30" fill="#0000FF" stroke="#000" stroke-width="1.4"/>
<circle cx="630.4" cy="1604.7" r="7.30" fill="#0000FF" stroke="#000" stroke-width="1.4"/>
<circle cx="682.7" cy="1601.7" r="7.30" fill="#0000FF" stroke="#000" stroke-width="1.4"/>
<circle cx="647.9" cy="1574.3" r="7.30" fill="#0000FF" stroke="#000" stroke-width="1.4"/>
<circle cx="777.4" cy="1408.5" r="7.30" fill="#0000FF" stroke="#000" stroke-width="1.4"/>
<circle cx="779.8" cy="1413.5" r="7.30" fill="#0000FF" stroke="#000" stroke-width="1.4"/>
<circle cx="775.3" cy="1424.2" r="7.30" fill="#0000FF" stroke="#000" stroke-width="1.4"/>
<circle cx="770.9" cy="1428.7" r="7.30" fill="#0000FF" stroke="#000" stroke-width="1.4"/>
<circle cx="754.0" cy="1446.0" r="7.30" fill="#0000FF" stroke="#000" stroke-width="1.4"/>
<circle cx="758.4" cy="1445.2" r="7.30" fill="#0000FF" stroke="#000" stroke-width="1.4"/>
<circle cx="748.0" cy="1471.9" r="7.30" fill="#0000FF" stroke="#000" stroke-width="1.4"/>
<circle cx="805.2" cy="1387.4" r="5.90" fill="#0000FF" stroke="#000" stroke-width="1.4"/>
<circle cx="793.5" cy="1397.2" r="5.90" fill="#0000FF" stroke="#000" stroke-width="1.4"/>
<polygon points="502.1,1460.9 659.0,1477.8 755.0,1553.5 660.4,1637.0 580.2,1641.3" fill="#FF0000" fill-opacity="0.2" stroke="none"/>
<polygon points="1246.9,999.2 944.3,1344.3 776.2,1546.1 682.7,1601.7 630.4,1604.7 702.7,1316.1" fill="#0000FF" fill-opacity="0.2" stroke="none"/>
<circle cx="315.3" cy="1396.1" r="8.40" fill="#FFFF00" stroke="#000" stroke-width="1.4"/>
<circle cx="295.7" cy="1422.8" r="8.40" fill="#FFFF00" stroke="#000" stroke-width="1.4"/>
<circle cx="244.5" cy="1297.2" r="8.40" fill="#FFFF00" stroke="#000" stroke-width="1.4"/>
<circle cx="222.2" cy="1248.3" r="8.40" fill="#FFFF00" stroke="#000" stroke-width="1.4"/>
<circle cx="365.2" cy="1362.8" r="8.40" fill="#FFFF00" stroke="#000" stroke-width="1.4"/>
<circle cx="375.8" cy="1362.8" r="8.40" fill="#FFFF00" stroke="#000" stroke-width="1.4"/>
<circle cx="388.5" cy="1362.5" r="8.40" fill="#FFFF00" stroke="#000" stroke-width="1.4"/>
<circle cx="489.7" cy="1355.4" r="8.40" fill="#FFFF00" stroke="#000" stroke-width="1.4"/>
<circle cx="535.6" cy="1330.2" r="8.40" fill="#FFFF00" stroke="#000" stroke-width="1.4"/>
<circle cx="703.2" cy="1372.6" r="8.40" fill="#FFFF00" stroke="#000" stroke-width="1.4"/>
<circle cx="701.1" cy="1387.7" r="8.40" fill="#FFFF00" stroke="#000" stroke-width="1.4"/>
<circle cx="682.2" cy="1421.0" r="8.40" fill="#FFFF00" stroke="#000" stroke-width="1.4"/>
<circle cx="713.5" cy="1428.3" r="8.40" fill="#FFFF00" stroke="#000" stroke-width="1.4"/>
<circle cx="689.7" cy="1475.2" r="8.40" fill="#FFFF00" stroke="#000" stroke-width="1.4"/>
<text x="222.3" y="1234.0" font-size="22" fill="#000" text-anchor="middle" >7</text>
<text x="224.9" y="1306.1" font-size="22" fill="#000" text-anchor="middle" >6</text>
<text x="377.6" y="1349.8" font-size="22" fill="#000" text-anchor="middle" style="font-kerning:none" >8- 0</text><path d="M763 0L583 0L583 1098Q518 1038 412 980Q307 921 224 890L224 1057Q374 1125 487 1221Q600 1318 647 1409L763 1409Z" fill="#000" transform="translate(375.15,1349.80) scale(0.01074,-0.01074)"/>
<text x="332.7" y="1411.5" font-size="22" fill="#000" text-anchor="middle" >2</text>
<text x="294.0" y="1450.0" font-size="22" fill="#000" text-anchor="middle" >3-5</text>
<text x="477.0" y="1342.8" font-size="22" fill="#000" text-anchor="middle" style="font-kerning:none" >  - 2</text><path d="M763 0L583 0L583 1098Q518 1038 412 980Q307 921 224 890L224 1057Q374 1125 487 1221Q600 1318 647 1409L763 1409Z" fill="#000" transform="translate(448.87,1342.80) scale(0.01074,-0.01074)"/><path d="M763 0L583 0L583 1098Q518 1038 412 980Q307 921 224 890L224 1057Q374 1125 487 1221Q600 1318 647 1409L763 1409Z" fill="#000" transform="translate(461.10,1342.80) scale(0.01074,-0.01074)"/><path d="M763 0L583 0L583 1098Q518 1038 412 980Q307 921 224 890L224 1057Q374 1125 487 1221Q600 1318 647 1409L763 1409Z" fill="#000" transform="translate(480.66,1342.80) scale(0.01074,-0.01074)"/>
<text x="535.5" y="1360.2" font-size="22" fill="#000" text-anchor="middle" style="font-kerning:none" > 3</text><path d="M763 0L583 0L583 1098Q518 1038 412 980Q307 921 224 890L224 1057Q374 1125 487 1221Q600 1318 647 1409L763 1409Z" fill="#000" transform="translate(523.26,1360.20) scale(0.01074,-0.01074)"/>
<text x="702.7" y="1359.6" font-size="22" fill="#000" text-anchor="middle" style="font-kerning:none" > 4</text><path d="M763 0L583 0L583 1098Q518 1038 412 980Q307 921 224 890L224 1057Q374 1125 487 1221Q600 1318 647 1409L763 1409Z" fill="#000" transform="translate(690.46,1359.60) scale(0.01074,-0.01074)"/>
<text x="722.3" y="1394.3" font-size="22" fill="#000" text-anchor="middle" style="font-kerning:none" > 5</text><path d="M763 0L583 0L583 1098Q518 1038 412 980Q307 921 224 890L224 1057Q374 1125 487 1221Q600 1318 647 1409L763 1409Z" fill="#000" transform="translate(710.06,1394.30) scale(0.01074,-0.01074)"/>
<text x="663.5" y="1416.2" font-size="22" fill="#000" text-anchor="middle" style="font-kerning:none" > 6</text><path d="M763 0L583 0L583 1098Q518 1038 412 980Q307 921 224 890L224 1057Q374 1125 487 1221Q600 1318 647 1409L763 1409Z" fill="#000" transform="translate(651.26,1416.20) scale(0.01074,-0.01074)"/>
<text x="729.5" y="1422.4" font-size="22" fill="#000" text-anchor="middle" style="font-kerning:none" > 7</text><path d="M763 0L583 0L583 1098Q518 1038 412 980Q307 921 224 890L224 1057Q374 1125 487 1221Q600 1318 647 1409L763 1409Z" fill="#000" transform="translate(717.26,1422.40) scale(0.01074,-0.01074)"/>
<text x="710.7" y="1488.3" font-size="22" fill="#000" text-anchor="middle" style="font-kerning:none" > 8</text><path d="M763 0L583 0L583 1098Q518 1038 412 980Q307 921 224 890L224 1057Q374 1125 487 1221Q600 1318 647 1409L763 1409Z" fill="#000" transform="translate(698.46,1488.30) scale(0.01074,-0.01074)"/>
</svg>
</body></html>
